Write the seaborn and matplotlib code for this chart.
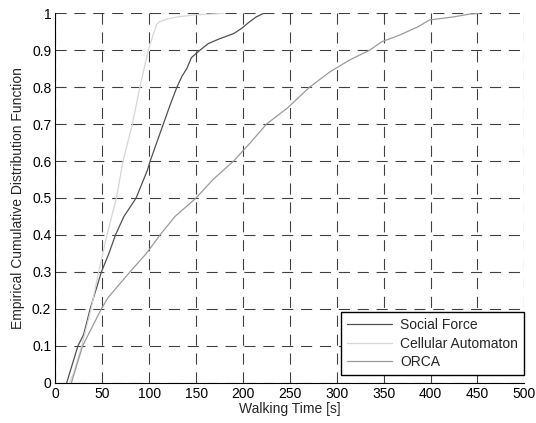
import matplotlib
matplotlib.use("Agg")
import matplotlib.pyplot as plt
import seaborn as sns
import pandas as pd

# Walking time (s) and ECDF values
sf_time = [12, 18, 24, 30, 37, 49, 57, 64, 73, 86, 98, 101, 108, 115, 122, 129.5, 135, 140, 145, 154, 163, 174, 190, 199, 206, 214, 222]
sf_cdf = [0.0, 0.05, 0.10, 0.13, 0.20, 0.30, 0.35, 0.40, 0.45, 0.50, 0.575, 0.60, 0.65, 0.70, 0.75, 0.80, 0.83, 0.85, 0.88, 0.90, 0.918, 0.93, 0.945, 0.96, 0.975, 0.99, 1.0]

ca_time = [15, 20, 28, 38, 46, 55, 65, 72, 82, 90, 99, 104, 108, 111, 120, 130, 150, 180]
ca_cdf = [0.0, 0.03, 0.10, 0.20, 0.30, 0.40, 0.50, 0.60, 0.70, 0.80, 0.90, 0.94, 0.97, 0.977, 0.985, 0.99, 0.996, 1.0]

orca_time = [17, 23, 29, 39, 49, 56, 66, 79.5, 97, 111.5, 127.5, 150, 168, 190, 208, 225, 248, 271, 293, 314, 335, 348, 367, 387, 399, 424, 442, 452]
orca_cdf = [0.0, 0.05, 0.10, 0.15, 0.20, 0.23, 0.26, 0.30, 0.35, 0.40, 0.45, 0.50, 0.55, 0.60, 0.65, 0.70, 0.745, 0.80, 0.842, 0.874, 0.90, 0.923, 0.941, 0.964, 0.982, 0.99, 0.998, 1.0]

series_names = ["Social Force", "Cellular Automaton", "ORCA"]
series_colors = ["#505050", "#d6d6d6", "#9a9a9a"]

x_ticks = [0, 50, 100, 150, 200, 250, 300, 350, 400, 450, 500]
y_ticks = [0, 0.1, 0.2, 0.3, 0.4, 0.5, 0.6, 0.7, 0.8, 0.9, 1]
y_tick_labels = ["0", "0.1", "0.2", "0.3", "0.4", "0.5", "0.6", "0.7", "0.8", "0.9", "1"]

frames = []
for name, t, c in zip(series_names, [sf_time, ca_time, orca_time], [sf_cdf, ca_cdf, orca_cdf]):
    frames.append(pd.DataFrame({"time": t, "cdf": c, "model": name}))
df = pd.concat(frames, ignore_index=True)

sns.set_style("white")
plt.rcParams["font.family"] = ["Liberation Sans", "DejaVu Sans"]
plt.rcParams["font.size"] = 10

fig = plt.figure(figsize=(5.36, 4.23), dpi=100)
ax = fig.add_axes([0.1035, 0.0953, 0.8747, 0.8733])

sns.lineplot(data=df, x="time", y="cdf", hue="model", hue_order=series_names,
             palette=dict(zip(series_names, series_colors)), linewidth=0.9,
             sort=False, estimator=None, ax=ax)

ax.set_xlim(0, 500)
ax.set_ylim(0, 1)
ax.set_xticks(x_ticks)
ax.set_yticks(y_ticks)
ax.set_xticklabels([str(v) for v in x_ticks])
ax.set_yticklabels(y_tick_labels)
ax.grid(True, color="black", linestyle=(0, (10, 7)), linewidth=0.8, alpha=0.75)
ax.set_axisbelow(True)
for s in ["top", "right"]:
    ax.spines[s].set_visible(False)
for s in ["left", "bottom"]:
    ax.spines[s].set_color("black")
    ax.spines[s].set_linewidth(0.8)
ax.tick_params(direction="in", length=4, width=0.8, colors="black", labelsize=10, pad=3)
ax.set_xlabel("Walking Time [s]", fontsize=10, labelpad=1)
ax.set_ylabel("Empirical Cumulative Distribution Function", fontsize=10, labelpad=5)

leg = ax.legend(loc="lower right", bbox_to_anchor=(1.0, 0.021), frameon=True, fancybox=False,
                edgecolor="black", fontsize=10, borderaxespad=0, handlelength=3.2,
                handletextpad=0.6, labelspacing=0.3, borderpad=0.45)
leg.get_frame().set_linewidth(1.0)
leg.get_frame().set_alpha(1)

fig.savefig("out.png", dpi=100)
